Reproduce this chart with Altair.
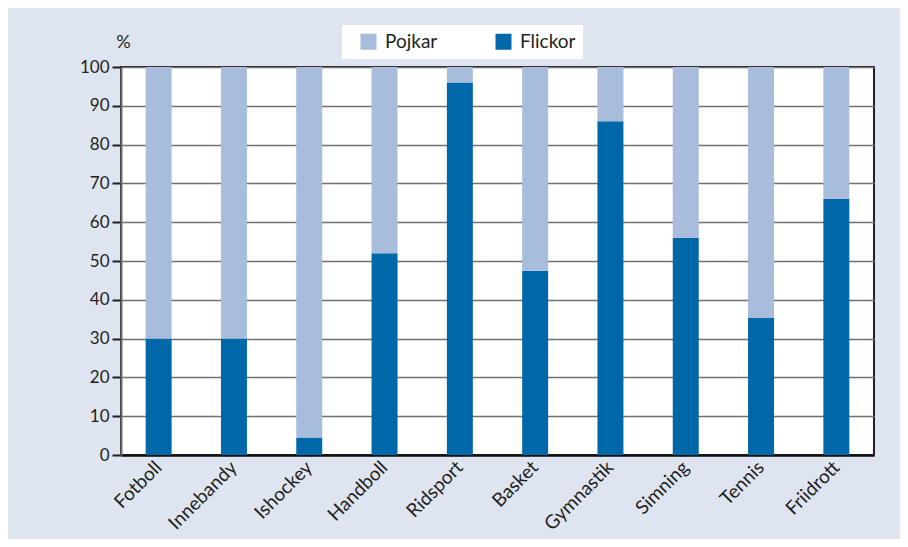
import altair as alt
import pandas as pd

sports = ["Fotboll", "Innebandy", "Ishockey", "Handboll", "Ridsport",
          "Basket", "Gymnastik", "Simning", "Tennis", "Friidrott"]
flickor = [30, 30, 4.5, 52, 96, 47.5, 86, 56, 35.3, 66]
pojkar = [70, 70, 95.5, 48, 4, 52.5, 14, 44, 64.7, 34]
y_ticks = [0, 10, 20, 30, 40, 50, 60, 70, 80, 90, 100]

rows = []
for s, f, p in zip(sports, flickor, pojkar):
    rows.append({"sport": s, "kon": "Flickor", "value": f, "ord": 0})
    rows.append({"sport": s, "kon": "Pojkar", "value": p, "ord": 1})
df = pd.DataFrame(rows)

FONT = "Lato"
DARK = "#231f20"

chart = alt.Chart(df).mark_bar().encode(
    x=alt.X("sport:N", sort=sports,
            scale=alt.Scale(paddingInner=0.655, paddingOuter=0.3275),
            axis=alt.Axis(title=None, labelAngle=-45, labelAlign="right",
                          labelBaseline="middle", labelPadding=9, ticks=False,
                          domainColor="#111111", domainWidth=2.5,
                          labelFont=FONT, labelFontSize=19, labelColor=DARK)),
    y=alt.Y("value:Q", stack="zero",
            scale=alt.Scale(domain=[0, 100], nice=False),
            axis=alt.Axis(values=y_ticks, title="%", titleAngle=0,
                          titleX=2, titleY=-25, titleAlign="center",
                          titleBaseline="middle", titleFont=FONT,
                          titleFontSize=18, titleFontWeight="normal",
                          titleColor=DARK,
                          grid=True, gridColor="#707070", gridWidth=1.6,
                          tickColor=DARK, tickSize=9, tickWidth=2,
                          domainColor="#6d6d6d", domainWidth=2,
                          labelPadding=3, labelFont=FONT, labelFontSize=17,
                          labelColor=DARK)),
    color=alt.Color("kon:N",
                    scale=alt.Scale(domain=["Pojkar", "Flickor"],
                                    range=["#a7bddb", "#0068a8"]),
                    legend=alt.Legend(title=None, orient="none",
                                      direction="horizontal",
                                      legendX=221, legendY=-42,
                                      fillColor="white", padding=7,
                                      symbolOffset=10,
                                      symbolType="square", symbolSize=256,
                                      symbolStrokeWidth=0,
                                      labelFont=FONT, labelFontSize=19,
                                      labelColor=DARK, labelOffset=7,
                                      columnPadding=46)),
    order=alt.Order("ord:Q"),
).properties(
    width=753, height=388,
    autosize=alt.AutoSizeParams(type="none"),
    padding={"left": 113, "top": 59, "right": 26, "bottom": 84},
    background="#dfe5f0",
).configure_view(
    fill="white", stroke=DARK, strokeWidth=2
)

chart.save("out.html", embed_options={"renderer": "svg", "actions": False})
